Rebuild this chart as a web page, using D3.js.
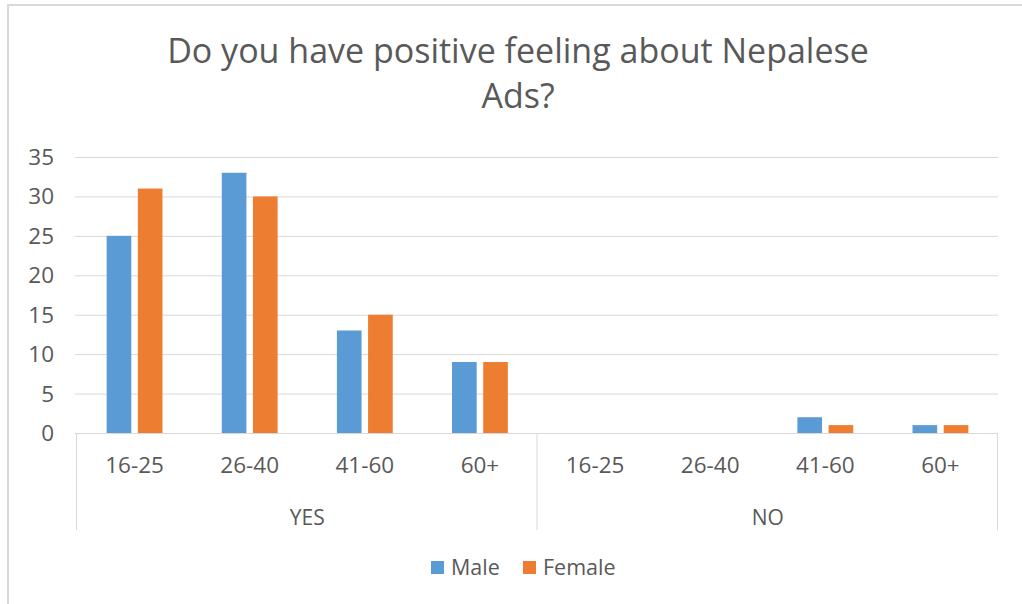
<!DOCTYPE html>
<html><head><meta charset="utf-8">
<script src="https://cdn.jsdelivr.net/npm/d3@7"></script>
<style>body{margin:0;background:#fff}svg{display:block}</style>
</head><body>
<script>
const groups = ["YES", "NO"];
const ages = ["16-25", "26-40", "41-60", "60+"];
const seriesNames = ["Male", "Female"];
const maleValues = [25, 33, 13, 9, 0, 0, 2, 1];
const femaleValues = [31, 30, 15, 9, 0, 0, 1, 1];
const yTicks = [0, 5, 10, 15, 20, 25, 30, 35];
const colors = ["#5B9BD5", "#ED7D31"];

const W = 1022, H = 604;
const font = "'Open Sans', 'Noto Sans', sans-serif";
const svg = d3.select("body").append("svg").attr("width", W).attr("height", H);

// outer frame
svg.append("rect").attr("x", 8).attr("y", 5).attr("width", 1030).attr("height", 620)
  .attr("fill", "none").attr("stroke", "#d9d9d9").attr("stroke-width", 2);

// title
const title = svg.append("text").attr("text-anchor", "middle").attr("fill", "#595959")
  .style("font-family", font).style("font-size", "34px");
title.append("tspan").attr("x", 518).attr("y", 63).text("Do you have positive feeling about Nepalese");
title.append("tspan").attr("x", 518).attr("y", 108).text("Ads?");

const cats = [];
groups.forEach(g => ages.forEach(a => cats.push(g + "|" + a)));

const x0 = 77, x1 = 998;
const x = d3.scaleBand().domain(cats).range([x0, x1]);
const y = d3.scaleLinear().domain([0, 35]).range([433, 157]);
const xs = d3.scaleBand().domain(seriesNames).range([0, x.bandwidth()]).paddingInner(0.21).paddingOuter(0.95);

// grid
svg.append("g").selectAll("line").data(yTicks.slice(1)).join("line")
  .attr("x1", x0 - 2).attr("x2", x1).attr("y1", d => y(d) + 0.5).attr("y2", d => y(d) + 0.5)
  .attr("stroke", "#d9d9d9").attr("stroke-width", 1);

// y labels
svg.append("g").selectAll("text").data(yTicks).join("text")
  .attr("x", 54).attr("y", d => y(d) + 8).attr("text-anchor", "end")
  .attr("fill", "#595959").style("font-family", font).style("font-size", "22.5px")
  .text(d => d);

// bars
const data = cats.map((c, i) => ({c, vals: [maleValues[i], femaleValues[i]]}));
const gBars = svg.append("g");
data.forEach(d => {
  d.vals.forEach((v, j) => {
    gBars.append("rect")
      .attr("x", x(d.c) + xs(seriesNames[j]))
      .attr("width", xs.bandwidth())
      .attr("y", y(v)).attr("height", y(0) - y(v))
      .attr("fill", colors[j]);
  });
});

// axis line
svg.append("line").attr("x1", x0 - 2).attr("x2", x1).attr("y1", 433.5).attr("y2", 433.5)
  .attr("stroke", "#d9d9d9").attr("stroke-width", 1);

// group separators
const sepX = [x(cats[0]), x(cats[4]), x1];
svg.append("g").selectAll("line").data(sepX).join("line")
  .attr("x1", d => d - 0.5).attr("x2", d => d - 0.5).attr("y1", 433).attr("y2", 530)
  .attr("stroke", "#d9d9d9").attr("stroke-width", 1);

// category labels
svg.append("g").selectAll("text").data(cats).join("text")
  .attr("x", d => x(d) + x.bandwidth() / 2).attr("y", 473).attr("text-anchor", "middle")
  .attr("fill", "#595959").style("font-family", font).style("font-size", "22.5px")
  .text(d => d.split("|")[1]);

// group labels
svg.append("g").selectAll("text").data(groups).join("text")
  .attr("x", (g, i) => (x(cats[i * 4]) + x(cats[i * 4 + 3]) + x.bandwidth()) / 2)
  .attr("y", 525).attr("text-anchor", "middle")
  .attr("fill", "#595959").style("font-family", font).style("font-size", "21px")
  .text(d => d);

// legend
const legendX = [431, 523];
seriesNames.forEach((s, i) => {
  svg.append("rect").attr("x", legendX[i]).attr("y", 561).attr("width", 13).attr("height", 13).attr("fill", colors[i]);
  svg.append("text").attr("x", legendX[i] + 20).attr("y", 575)
    .attr("fill", "#595959").style("font-family", font).style("font-size", "21.5px").text(s);
});
</script>
</body></html>
